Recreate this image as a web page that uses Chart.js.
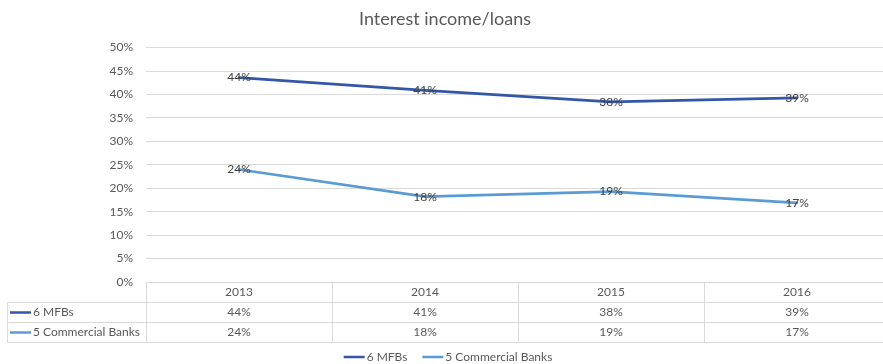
<!DOCTYPE html>
<html>
<head>
<meta charset="utf-8">
<script src="https://cdn.jsdelivr.net/npm/chart.js@4.4.1/dist/chart.umd.min.js"></script>
<style>
  html, body { margin: 0; padding: 0; overflow: hidden; background: #ffffff; }
  #wrap { width: 896px; height: 364px; position: relative; }
</style>
</head>
<body>
<div id="wrap"><canvas id="chart"></canvas></div>
<script>
// Interest income as a share of loans, by year
const years = ['2013', '2014', '2015', '2016'];
const seriesNames = ['6 MFBs', '5 Commercial Banks'];
const mfbValues = [43.6, 40.9, 38.4, 39.3];
const bankValues = [24.0, 18.2, 19.3, 16.9];
const seriesColors = ['#3456a6', '#5b9bd5'];

const FONT = 'Lato, "Open Sans", sans-serif';
const TEXT = '#595959';
const GRID = '#d9d9d9';

const pct = v => Math.round(v) + '%';

// Value labels centred on each point, plus the data table and legend under the plot
const tableAndLabels = {
  id: 'tableAndLabels',
  afterDatasetsDraw(chart) {
    const ctx = chart.ctx;
    ctx.save();
    ctx.font = '12px ' + FONT;
    ctx.fillStyle = '#404040';
    ctx.textAlign = 'center';
    ctx.textBaseline = 'middle';
    chart.data.datasets.forEach((ds, di) => {
      chart.getDatasetMeta(di).data.forEach((pt, i) => {
        ctx.fillText(pct(ds.data[i]), pt.x, pt.y);
      });
    });
    ctx.restore();
  },
  afterDraw(chart) {
    const ctx = chart.ctx;
    const x = chart.scales.x;
    const rowH = 20;
    const top = Math.round(x.top) + 0.5;
    const tableLeft = 7.5;
    const n = years.length;
    const colW = (x.right - x.left) / n;
    const bounds = [];
    for (let i = 0; i <= n; i++) bounds.push(Math.round(x.getPixelForValue(0) - colW / 2 + i * colW) + 0.5);

    ctx.save();
    ctx.strokeStyle = GRID;
    ctx.lineWidth = 1;
    ctx.beginPath();
    // horizontal rules
    ctx.moveTo(bounds[0], top); ctx.lineTo(bounds[n], top);
    for (let r = 1; r <= 3; r++) {
      ctx.moveTo(tableLeft, top + r * rowH); ctx.lineTo(bounds[n], top + r * rowH);
    }
    // vertical rules
    ctx.moveTo(tableLeft, top + rowH); ctx.lineTo(tableLeft, top + 3 * rowH);
    bounds.forEach(b => { ctx.moveTo(b, top); ctx.lineTo(b, top + 3 * rowH); });
    ctx.stroke();

    ctx.font = '12px ' + FONT;
    ctx.fillStyle = TEXT;
    ctx.textBaseline = 'middle';
    chart.data.datasets.forEach((ds, di) => {
      const cy = top + rowH * (di + 1) + rowH / 2;
      // series key
      ctx.strokeStyle = ds.borderColor;
      ctx.lineWidth = 2.5;
      ctx.beginPath();
      ctx.moveTo(10, cy); ctx.lineTo(31, cy);
      ctx.stroke();
      ctx.textAlign = 'left';
      ctx.fillText(ds.label, 33, cy);
      ctx.textAlign = 'center';
      ds.data.forEach((v, i) => ctx.fillText(pct(v), x.getPixelForValue(i), cy));
    });

    // legend
    const ly = 357;
    const sample = 21, gap = 2, itemGap = 15;
    const widths = chart.data.datasets.map(ds => ctx.measureText(ds.label).width);
    const total = widths.reduce((a, w) => a + sample + gap + w, 0) + itemGap * (widths.length - 1);
    let lx = chart.width / 2 - total / 2;
    chart.data.datasets.forEach((ds, di) => {
      ctx.strokeStyle = ds.borderColor;
      ctx.lineWidth = 2.5;
      ctx.beginPath();
      ctx.moveTo(lx, ly); ctx.lineTo(lx + sample, ly);
      ctx.stroke();
      ctx.textAlign = 'left';
      ctx.fillText(ds.label, lx + sample + gap, ly);
      lx += sample + gap + widths[di] + itemGap;
    });
    ctx.restore();
  }
};

new Chart(document.getElementById('chart'), {
  type: 'line',
  data: {
    labels: years,
    datasets: [
      { label: seriesNames[0], data: mfbValues, borderColor: seriesColors[0], backgroundColor: seriesColors[0] },
      { label: seriesNames[1], data: bankValues, borderColor: seriesColors[1], backgroundColor: seriesColors[1] }
    ]
  },
  options: {
    responsive: true,
    maintainAspectRatio: false,
    animation: false,
    layout: { padding: { left: 0, right: 6, top: 0, bottom: 22 } },
    elements: {
      line: { borderWidth: 2.75, tension: 0, borderCapStyle: 'round' },
      point: { radius: 0, hoverRadius: 0 }
    },
    plugins: {
      legend: { display: false },
      tooltip: { enabled: false },
      title: {
        display: true,
        text: 'Interest income/loans',
        color: TEXT,
        font: { family: FONT, size: 18, weight: 'normal' },
        padding: { top: 8, bottom: 18 }
      }
    },
    scales: {
      x: {
        offset: true,
        grid: { display: false, drawTicks: false },
        border: { display: false },
        ticks: { color: TEXT, font: { family: FONT, size: 12 }, padding: 3, maxRotation: 0 },
        afterFit(scale) { scale.height = 60; }
      },
      y: {
        min: 0,
        max: 50,
        grid: { color: GRID, drawTicks: false },
        border: { display: false },
        ticks: { stepSize: 5, color: TEXT, font: { family: FONT, size: 12 }, padding: 13, callback: v => v + '%' },
        afterFit(scale) { scale.width = 146; }
      }
    }
  },
  plugins: [tableAndLabels]
});
</script>
</body>
</html>
